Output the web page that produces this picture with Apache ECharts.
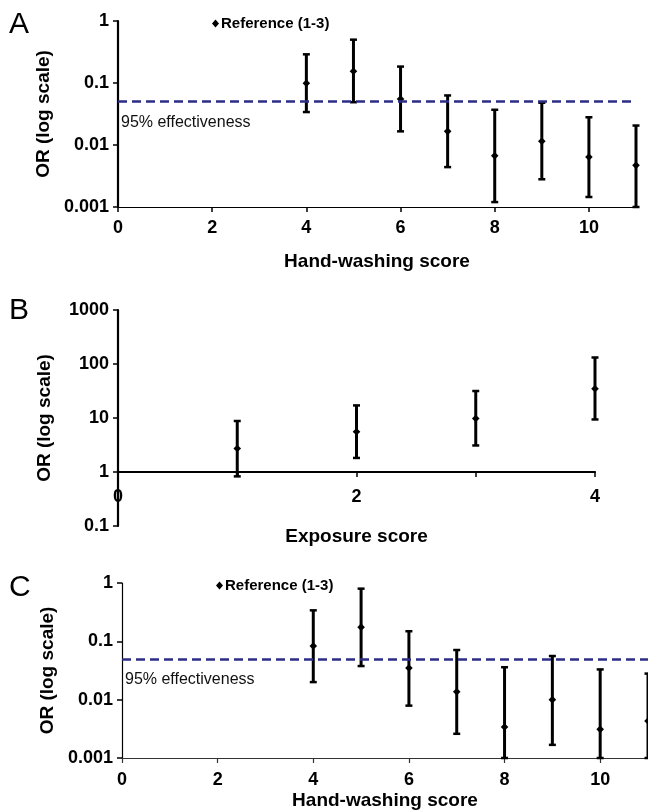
<!DOCTYPE html>
<html><head><meta charset="utf-8">
<script src="https://cdn.jsdelivr.net/npm/echarts@6/dist/echarts.min.js"></script>
<style>html,body{margin:0;padding:0;background:#fff}#c{width:648px;height:811px}</style>
</head><body><div id="c"></div>
<script>
// Panel A: hand-washing score (OR, 95% CI)
const scoresA = [4, 5, 6, 7, 8, 9, 10, 11];
const orA   = [0.099, 0.155, 0.055, 0.0166, 0.0067, 0.0115, 0.0064, 0.0047];
const lowA  = [0.034, 0.049, 0.0166, 0.0044, 0.0012, 0.0028, 0.00145, 0.001];
const highA = [0.29, 0.50, 0.184, 0.063, 0.037, 0.048, 0.028, 0.0206];
// Panel B: exposure score
const scoresB = [1, 2, 3, 4];
const orB   = [2.73, 5.57, 9.8, 34.9];
const lowB  = [0.83, 1.82, 3.1, 9.4];
const highB = [8.8, 17.1, 31.6, 132];
// Panel C: hand-washing score (second model)
const scoresC = [4, 5, 6, 7, 8, 9, 10, 11];
const orC   = [0.083, 0.175, 0.0348, 0.0137, 0.0034, 0.010, 0.0031, 0.0043];
const lowC  = [0.020, 0.0377, 0.0079, 0.0026, 0.001, 0.00168, 0.001, 0.001];
const highC = [0.34, 0.80, 0.149, 0.071, 0.036, 0.056, 0.033, 0.028];
// reference line
const effectivenessOR = 0.05;
const effectivenessLabel = '95% effectiveness';
const legendName = 'Reference (1-3)';
// tick labels
const xTicksHW = [0, 2, 4, 6, 8, 10];
const xTickMarksB = [0, 1, 2, 3, 4];
const xTicksB = [0, 2, 4];
const yTicksHW = ['0.001', '0.01', '0.1', '1'];
const yTicksB = ['0.1', '1', '10', '100', '1000'];
const panelLetters = ['A', 'B', 'C'];
const yName = 'OR (log scale)';
const xNames = ['Hand-washing score', 'Exposure score', 'Hand-washing score'];

const FONT = '"Liberation Sans", Arial, sans-serif';

function rows(x, lo, hi, mid) { return x.map((v, i) => [v, lo[i], hi[i], mid[i]]); }

function errRender(params, api) {
  const x = api.value(0);
  const lo = api.coord([x, api.value(1)]);
  const hi = api.coord([x, api.value(2)]);
  const md = api.coord([x, api.value(3)]);
  const cw = 3.5, d = 3.8;
  const st = { stroke: '#000', lineWidth: 3 };
  return { type: 'group', children: [
    { type: 'line', shape: { x1: lo[0], y1: lo[1], x2: hi[0], y2: hi[1] }, style: st },
    { type: 'line', shape: { x1: lo[0] - cw, y1: lo[1], x2: lo[0] + cw, y2: lo[1] }, style: { stroke: '#000', lineWidth: 2.5 } },
    { type: 'line', shape: { x1: hi[0] - cw, y1: hi[1], x2: hi[0] + cw, y2: hi[1] }, style: { stroke: '#000', lineWidth: 2.5 } },
    { type: 'polygon', shape: { points: [[md[0], md[1] - d], [md[0] + d, md[1]], [md[0], md[1] + d], [md[0] - d, md[1]]] }, style: { fill: '#000' } }
  ]};
}

function logFmt(labels, minExp) {
  return v => { const k = Math.round(Math.log10(v)) - minExp; return labels[k] !== undefined ? labels[k] : ''; };
}

const tickLabel = { fontFamily: FONT, fontWeight: 'bold', fontSize: 18, color: '#000' };
const nameStyle = { fontFamily: FONT, fontWeight: 'bold', fontSize: 19, color: '#000' };

function yAxisCfg(idx, min, max, labels, minExp, lw) {
  return {
    gridIndex: idx, type: 'log', logBase: 10, min: min, max: max,
    name: yName, nameLocation: 'middle', nameGap: 64, nameTextStyle: nameStyle,
    axisLine: { show: true, lineStyle: { color: '#000', width: lw } },
    axisTick: { show: true, inside: false, length: 5, lineStyle: { color: '#000', width: 1.5 } },
    axisLabel: Object.assign({ margin: 9, formatter: logFmt(labels, minExp) }, tickLabel),
    splitLine: { show: false }, minorTick: { show: false }
  };
}

function effLine(labelDy) {
  return {
    silent: true, symbol: 'none',
    lineStyle: { color: '#2d2d86', type: [9, 5], width: 2.5 },
    label: { show: true, position: 'insideStartBottom', formatter: effectivenessLabel, distance: [3, labelDy],
      fontFamily: FONT, fontSize: 16, color: '#111' },
    data: [[{ coord: [0, effectivenessOR] }, { coord: [11, effectivenessOR] }]]
  };
}

const legendText = { fontFamily: FONT, fontWeight: 'bold', fontSize: 15, color: '#000', padding: [0, 0, 0, -3] };

const option = {
  animation: false,
  backgroundColor: '#fff',
  grid: [
    { left: 118, top: 21, width: 518, height: 186 },
    { left: 118, top: 310, width: 477, height: 216 },
    { left: 122, top: 583, width: 528, height: 175.5 }
  ],
  legend: [
    { left: 207, top: 11, data: [legendName], icon: 'diamond', itemWidth: 7, itemHeight: 8,
      textStyle: legendText, selectedMode: false },
    { left: 211, top: 573, data: [legendName], icon: 'diamond', itemWidth: 7, itemHeight: 8,
      textStyle: legendText, selectedMode: false }
  ],
  xAxis: [
    { gridIndex: 0, type: 'value', min: 0, max: 11, name: xNames[0], nameLocation: 'middle', nameGap: 45, nameTextStyle: nameStyle,
      axisLine: { show: true, onZero: false, lineStyle: { color: '#000', width: 1.2 } },
      axisTick: { show: true, length: 5, customValues: xTicksHW, lineStyle: { color: '#000', width: 1.5 } },
      axisLabel: Object.assign({ margin: 12, customValues: xTicksHW }, tickLabel), splitLine: { show: false } },
    { gridIndex: 1, type: 'value', min: 0, max: 4, name: xNames[1], nameLocation: 'middle', nameGap: 55, nameTextStyle: nameStyle,
      offset: -54, position: 'bottom',
      axisLine: { show: true, onZero: false, lineStyle: { color: '#000', width: 2.2 } },
      axisTick: { show: true, length: 5, customValues: xTickMarksB, lineStyle: { color: '#000', width: 1.5 } },
      axisLabel: Object.assign({ margin: 16, customValues: xTicksB }, tickLabel), splitLine: { show: false } },
    { gridIndex: 2, type: 'value', min: 0, max: 11, name: xNames[2], nameLocation: 'middle', nameGap: 33, nameTextStyle: nameStyle,
      axisLine: { show: true, onZero: false, lineStyle: { color: '#333', width: 1.2 } },
      axisTick: { show: true, length: 5, customValues: xTicksHW, lineStyle: { color: '#333', width: 1.2 } },
      axisLabel: Object.assign({ margin: 13, customValues: xTicksHW }, tickLabel), splitLine: { show: false } }
  ],
  yAxis: [
    yAxisCfg(0, 0.001, 1, yTicksHW, -3, 2.2),
    yAxisCfg(1, 0.1, 1000, yTicksB, -1, 2.2),
    yAxisCfg(2, 0.001, 1, yTicksHW, -3, 1.2)
  ],
  graphic: panelLetters.map((t, i) => ({
    type: 'text', left: 9, top: [10, 296, 573][i],
    style: { text: t, font: '30px ' + FONT, fill: '#000' }
  })),
  series: [
    { type: 'custom', name: legendName, xAxisIndex: 0, yAxisIndex: 0, itemStyle: { color: '#000' },
      renderItem: errRender, data: rows(scoresA, lowA, highA, orA), encode: { x: 0, y: [1, 2, 3] },
      markLine: effLine(13) },
    { type: 'custom', name: 'Exposure', xAxisIndex: 1, yAxisIndex: 1, itemStyle: { color: '#000' },
      renderItem: errRender, data: rows(scoresB, lowB, highB, orB), encode: { x: 0, y: [1, 2, 3] } },
    { type: 'custom', name: legendName, xAxisIndex: 2, yAxisIndex: 2, itemStyle: { color: '#000' },
      renderItem: errRender, data: rows(scoresC, lowC, highC, orC), encode: { x: 0, y: [1, 2, 3] },
      markLine: effLine(13) }
  ]
};
const chart = echarts.init(document.getElementById('c'), null, { renderer: 'canvas' });
chart.setOption(option);
</script></body></html>
